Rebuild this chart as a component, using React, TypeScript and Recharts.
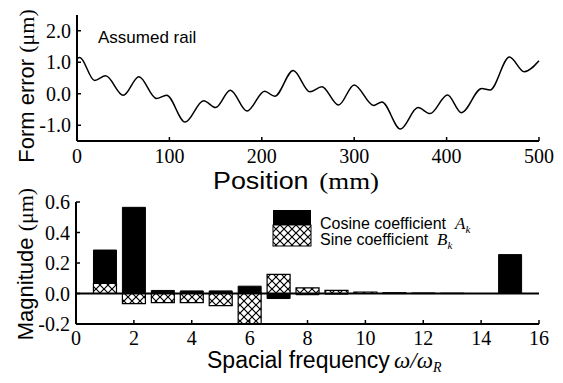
import React from "react"
import { LineChart, Line, BarChart, Bar, XAxis, YAxis, ReferenceLine, Legend } from "recharts"

const SANS = "'Liberation Sans', Arial, sans-serif"
const SERIF = "'Liberation Serif', 'Times New Roman', serif"

// top panel: form error of the assumed rail
const positions = [0, 3, 19, 31, 50, 67, 86, 97, 117, 137, 150, 166, 184, 203, 214, 234, 252, 265, 283, 300, 321, 330, 350, 369, 382, 401, 416, 438, 447, 468, 484, 500]
const formError = [1.12, 1.15, 0.42, 0.57, -0.05, 0.54, -0.15, -0.05, -0.9, -0.22, -0.44, 0.11, -0.55, 0.08, -0.08, 0.74, 0.06, 0.22, -0.36, 0.28, -0.37, -0.26, -1.12, -0.44, -0.63, -0.04, -0.6, 0.17, 0.12, 1.17, 0.7, 1.05]
const positionTicks = [0, 100, 200, 300, 400, 500]
const errorTicks = [-1, 0, 1, 2]

// bottom panel: Fourier coefficients
const frequencies = [1, 2, 3, 4, 5, 6, 7, 8, 9, 10, 11, 12, 13, 14, 15]
const cosineCoef = [0.285, 0.565, 0.02, 0.017, 0.017, 0.048, -0.033, -0.008, -0.004, 0.005, 0.004, 0.002, 0.001, 0, 0.255]
const sineCoef = [0.066, -0.066, -0.06, -0.06, -0.08, -0.2, 0.125, 0.037, 0.02, 0.01, 0.004, 0.002, 0.001, 0, 0]
const freqTicks = [0, 2, 4, 6, 8, 10, 12, 14, 16]
const magnitudeTicks = [-0.2, 0, 0.2, 0.4, 0.6]

const railData = positions.map((p, i) => ({ pos: p, err: formError[i] }))
const coefData = frequencies.map((k, i) => ({ k, cos: cosineCoef[i], sin: sineCoef[i] }))

const tickStyle = { fill: "#000", fontSize: 20, fontFamily: SERIF }
const axisLine = { stroke: "#000", strokeWidth: 2 }
const tickLine = { stroke: "#000", strokeWidth: 1.5 }

function CoefLegend() {
  return (
    <svg width={260} height={46} style={{ display: "block" }}>
      <defs>
        <pattern id="hatchLegend" width="8" height="8" patternUnits="userSpaceOnUse">
          <rect width="8" height="8" fill="#fff" />
          <path d="M0,0 L8,8 M8,0 L0,8" stroke="#000" strokeWidth="1.2" />
        </pattern>
      </defs>
      <rect x={1} y={1} width={38} height={15} fill="#000" />
      <rect x={1} y={16} width={38} height={21} fill="url(#hatchLegend)" stroke="#000" strokeWidth={1} />
      <text x={48} y={20} fontSize={16} fill="#000">
        <tspan fontFamily={SANS}>Cosine coefficient</tspan>
        <tspan x={183} fontFamily={SERIF} fontStyle="italic" fontSize={17}>A</tspan>
        <tspan fontFamily={SERIF} fontStyle="italic" fontSize={11} dy={4}>k</tspan>
      </text>
      <text x={48} y={36} fontSize={16} fill="#000">
        <tspan fontFamily={SANS}>Sine coefficient</tspan>
        <tspan x={165} fontFamily={SERIF} fontStyle="italic" fontSize={17}>B</tspan>
        <tspan fontFamily={SERIF} fontStyle="italic" fontSize={11} dy={4}>k</tspan>
      </text>
    </svg>
  )
}

export default function App() {
  return (
    <div style={{ position: "absolute", left: 0, top: 0, width: 563, height: 383, background: "#fff" }}>
      <div style={{ position: "absolute", left: 0, top: 0 }}>
        <LineChart width={563} height={197} data={railData} margin={{ top: 15, right: 24, bottom: 0, left: 0 }}>
          <XAxis
            dataKey="pos"
            type="number"
            domain={[0, 500]}
            ticks={positionTicks}
            interval={0}
            height={56}
            stroke="#000"
            axisLine={axisLine}
            tickLine={tickLine}
            tickSize={-4}
            tickMargin={12}
            tick={tickStyle}
          />
          <YAxis
            type="number"
            domain={[-1.5, 2.5]}
            ticks={errorTicks}
            interval={0}
            width={77}
            stroke="#000"
            axisLine={axisLine}
            tickLine={tickLine}
            tickSize={-4}
            tickMargin={10}
            tick={tickStyle}
            tickFormatter={(v: number) => v.toFixed(1)}
          />
          <Line dataKey="err" type="monotone" stroke="#000" strokeWidth={1.5} dot={false} isAnimationActive={false} />
          <text x={98} y={43} fontFamily={SANS} fontSize={17} fill="#000">
            Assumed rail
          </text>
          <text x={26} y={86} transform="rotate(-90, 26, 86)" textAnchor="middle" dominantBaseline="central" fontSize={22} fill="#000">
            <tspan fontFamily={SANS}>Form error </tspan>
            <tspan fontFamily={SERIF}>(μm)</tspan>
          </text>
          <g transform="translate(296,189) scale(1.12,1)">
            <text x={0} y={0} textAnchor="middle" fontSize={24} fill="#000">
              <tspan fontFamily={SANS}>Position </tspan>
              <tspan fontFamily={SERIF} dx={3}>(mm)</tspan>
            </text>
          </g>
        </LineChart>
      </div>

      <div style={{ position: "absolute", left: 0, top: 185 }}>
        <BarChart width={563} height={198} data={coefData} margin={{ top: 17, right: 24, bottom: 0, left: 0 }} barGap={-23}>
          <defs>
            <pattern id="hatch" width="8" height="8" patternUnits="userSpaceOnUse">
              <rect width="8" height="8" fill="#fff" />
              <path d="M0,0 L8,8 M8,0 L0,8" stroke="#000" strokeWidth="1.2" />
            </pattern>
          </defs>
          <XAxis
            dataKey="k"
            type="number"
            domain={[0, 16]}
            ticks={freqTicks}
            interval={0}
            height={59}
            stroke="#000"
            axisLine={axisLine}
            tickLine={tickLine}
            tickSize={-4}
            tickMargin={11}
            tick={tickStyle}
          />
          <YAxis
            type="number"
            domain={[-0.2, 0.6]}
            ticks={magnitudeTicks}
            interval={0}
            width={76}
            stroke="#000"
            axisLine={axisLine}
            tickLine={tickLine}
            tickSize={-4}
            tickMargin={10}
            tick={tickStyle}
            tickFormatter={(v: number) => v.toFixed(1)}
          />
          <Bar dataKey="cos" name="Cosine coefficient" fill="#000" stroke="#000" strokeWidth={1} barSize={23} isAnimationActive={false} />
          <Bar dataKey="sin" name="Sine coefficient" fill="url(#hatch)" stroke="#000" strokeWidth={1.2} barSize={23} isAnimationActive={false} />
          <ReferenceLine y={0} stroke="#000" strokeWidth={2} />
          <Legend
            layout="vertical"
            align="center"
            verticalAlign="middle"
            content={() => <CoefLegend />}
            wrapperStyle={{ position: "absolute", left: 272, top: 24, width: 260 }}
          />
          <text x={25} y={79} transform="rotate(-90, 25, 79)" textAnchor="middle" dominantBaseline="central" fontSize={22} fill="#000">
            <tspan fontFamily={SANS}>Magnitude </tspan>
            <tspan fontFamily={SERIF}>(μm)</tspan>
          </text>
          <text x={207} y={183} fontSize={23} fill="#000">
            <tspan fontFamily={SANS}>Spacial frequency</tspan>
            <tspan x={394} fontFamily={SERIF} fontStyle="italic">ω/ω</tspan>
            <tspan fontFamily={SERIF} fontStyle="italic" fontSize={14} dy={4}>R</tspan>
          </text>
        </BarChart>
      </div>
    </div>
  )
}
